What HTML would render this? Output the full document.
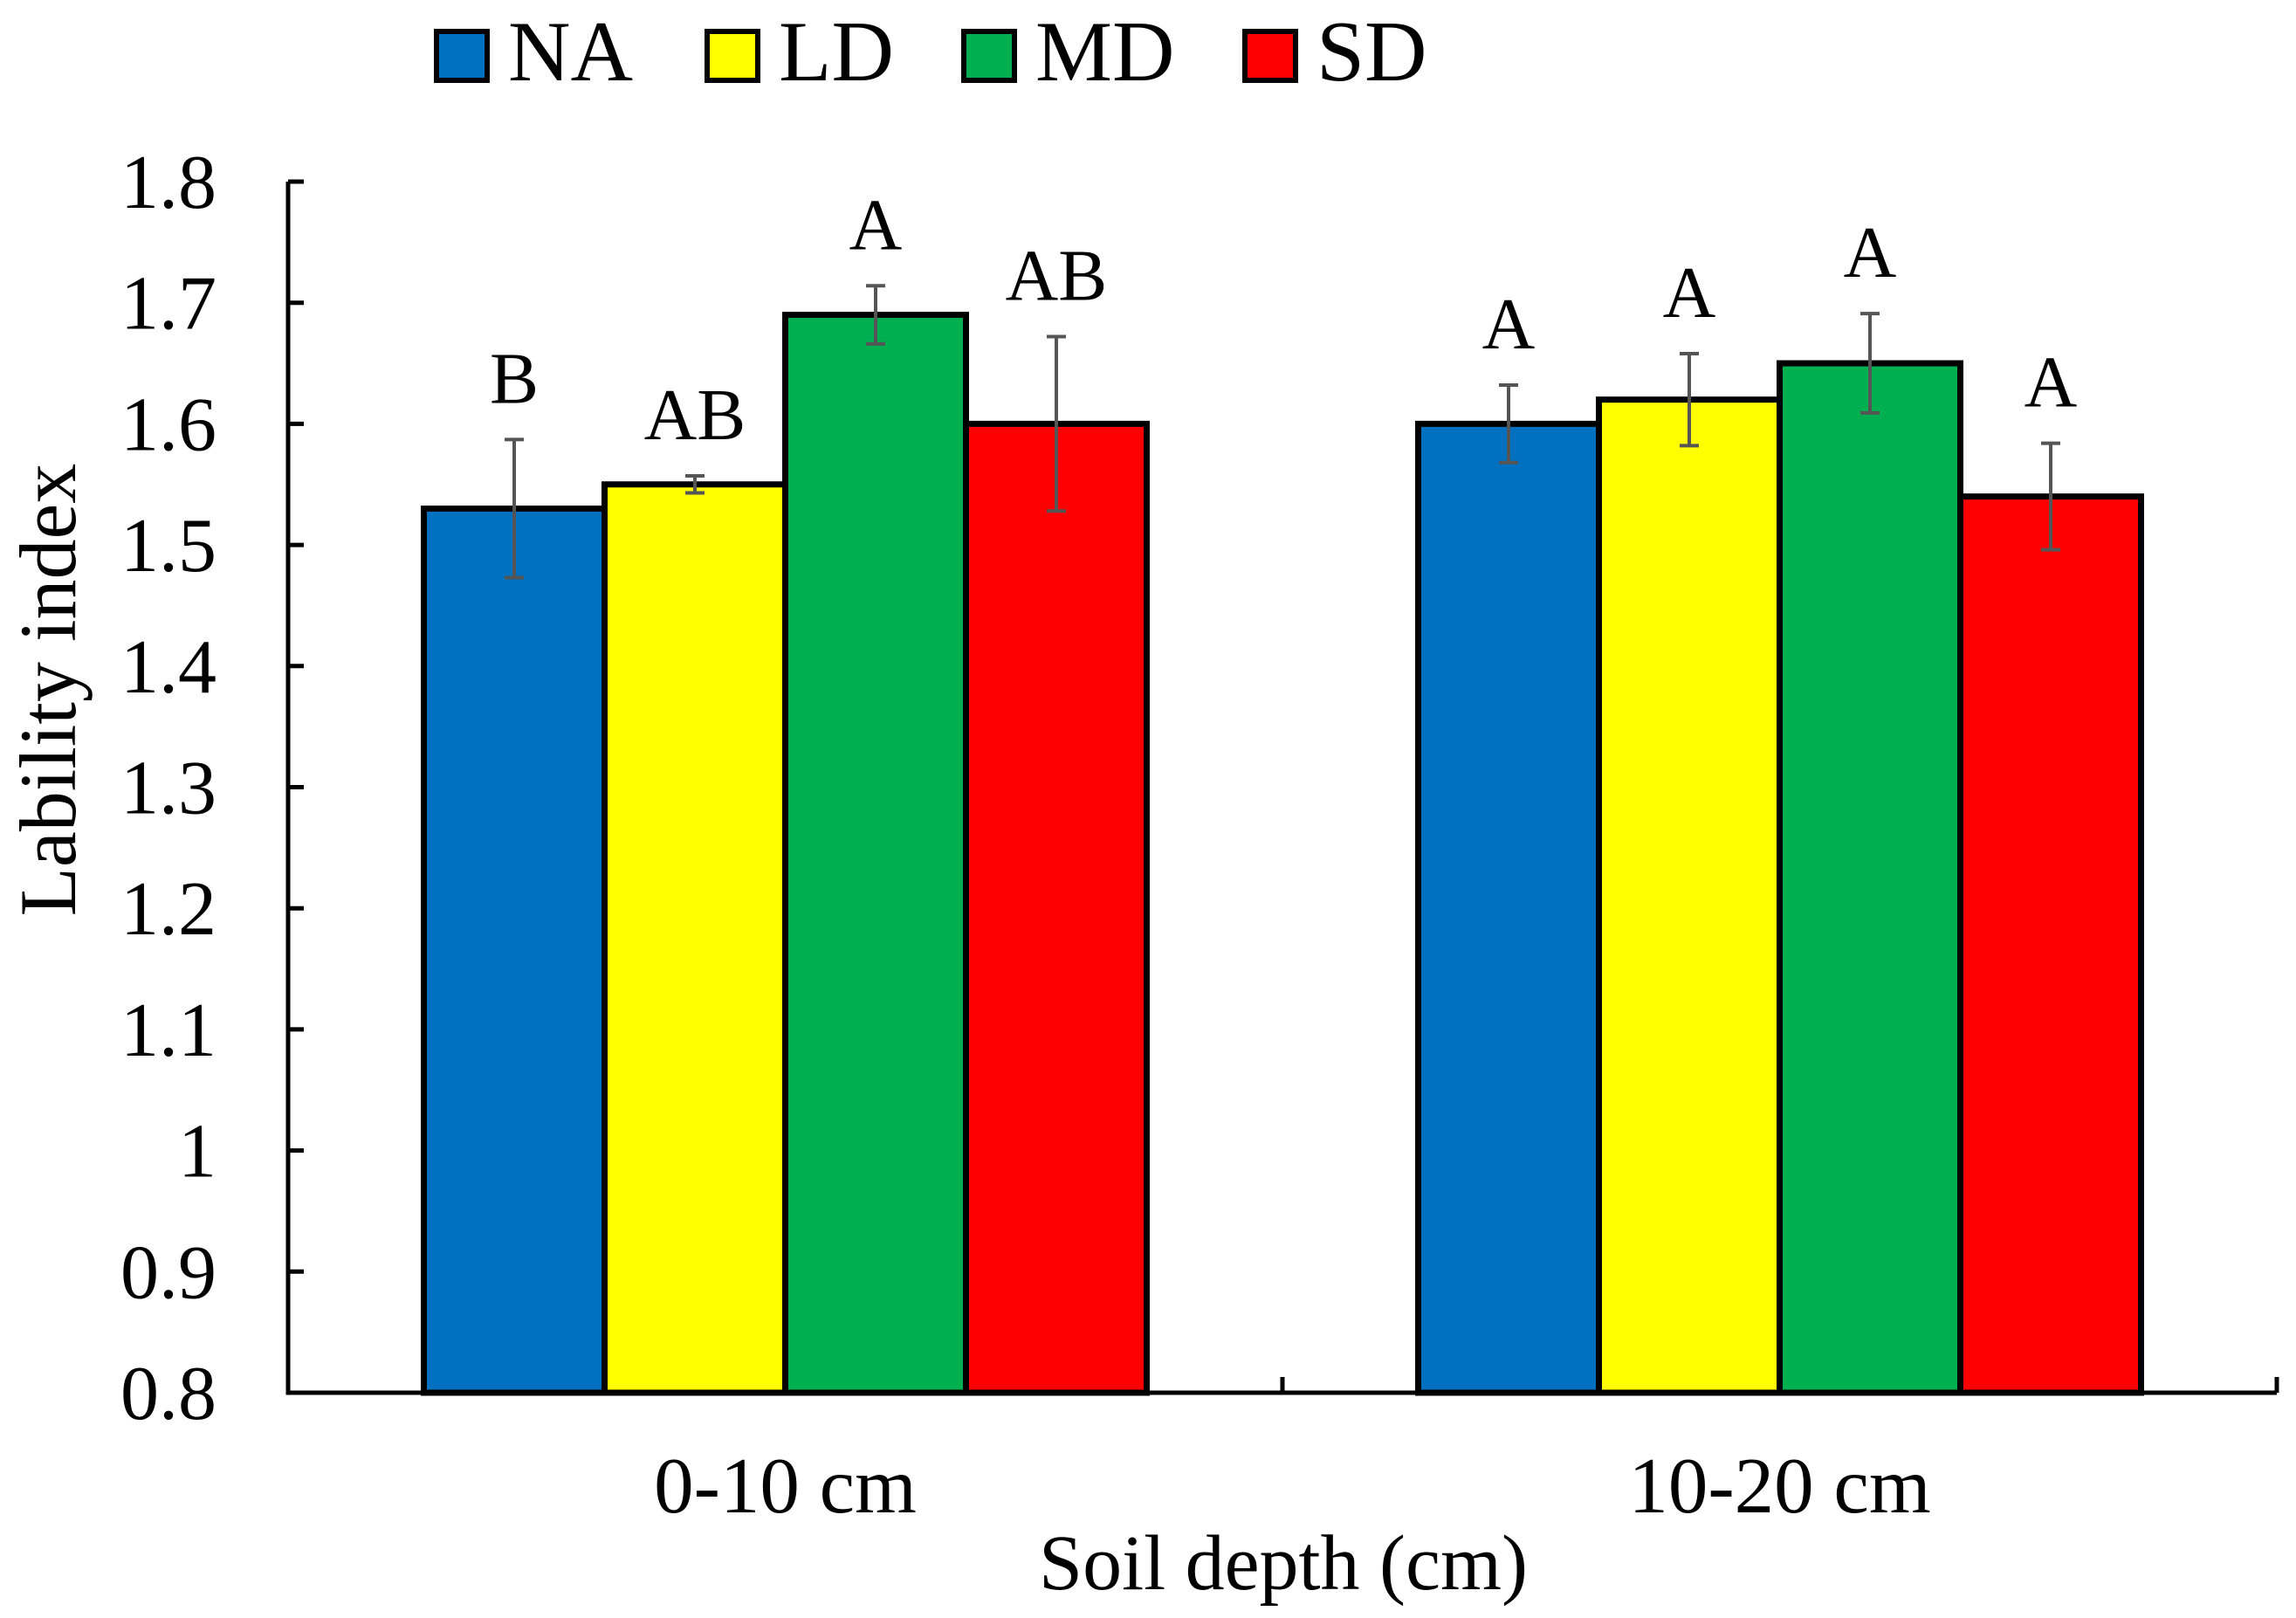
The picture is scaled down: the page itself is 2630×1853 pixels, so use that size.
<!DOCTYPE html>
<html><head><meta charset="utf-8"><style>
html,body{margin:0;padding:0;background:#fff}
svg{display:block;font-family:"Liberation Serif",serif}
</style></head><body>
<svg id="chart" width="2630" height="1853" viewBox="0 0 2630 1853" xmlns="http://www.w3.org/2000/svg">
<g id="legend"></g>
<g id="axes"></g>
<g id="bars"></g>
<text x="55" y="790" font-size="92" text-anchor="middle" transform="rotate(-90 55 790)" dominant-baseline="central">Lability index</text>
<text x="1470" y="1820" font-size="90" text-anchor="middle">Soil depth (cm)</text>
</svg>
<script>
const categories = ["0-10 cm", "10-20 cm"];
const seriesNames = ["NA", "LD", "MD", "SD"];
const seriesColors = ["#0070C0", "#FFFF00", "#00B050", "#FF0000"];
const valuesNA = [1.53, 1.60];
const valuesLD = [1.55, 1.62];
const valuesMD = [1.69, 1.65];
const valuesSD = [1.60, 1.54];
const errNA = [0.057, 0.032];
const errLD = [0.007, 0.038];
const errMD = [0.024, 0.041];
const errSD = [0.072, 0.044];
const lettersNA = ["B", "A"];
const lettersLD = ["AB", "A"];
const lettersMD = ["A", "A"];
const lettersSD = ["AB", "A"];
const yTicks = [0.8, 0.9, 1, 1.1, 1.2, 1.3, 1.4, 1.5, 1.6, 1.7, 1.8];
const yTickLabels = ["0.8","0.9","1","1.1","1.2","1.3","1.4","1.5","1.6","1.7","1.8"];

const NS = "http://www.w3.org/2000/svg";
const X0 = 330, X1 = 2608, Y0 = 1595, Y1 = 208, ymin = 0.8, ymax = 1.8;
const catW = 1139;
const barW = 207;
function yScale(v){ return Y0 - (v - ymin) / (ymax - ymin) * (Y0 - Y1); }
function xCenter(i){ return X0 + catW * (i + 0.5); }
function mk(tag, attrs, parent){ const e = document.createElementNS(NS, tag); for (const k in attrs) e.setAttribute(k, attrs[k]); parent.appendChild(e); return e; }

const axes = document.getElementById('axes');
const bars = document.getElementById('bars');
const legend = document.getElementById('legend');
const vals = [valuesNA, valuesLD, valuesMD, valuesSD];
const errs = [errNA, errLD, errMD, errSD];
const lets = [lettersNA, lettersLD, lettersMD, lettersSD];

yTicks.forEach((t, i) => {
  const y = yScale(t);
  const tk = mk('line', {x1: X0, x2: X0 + 18, y1: y, y2: y, stroke: '#000', 'stroke-width': 5}, axes);
  
  
  const lb = mk('text', {x: 248, y: y + 30, 'font-size': 88, 'text-anchor': 'end'}, axes);
  lb.textContent = yTickLabels[i];
  
  
});

categories.forEach((c, ci) => {
  const cx = xCenter(ci);
  seriesNames.forEach((s, si) => {
    const v = vals[si][ci];
    const x = cx - 2 * barW + si * barW;
    const y = yScale(v);
    const r = mk('rect', {x: x, y: y, width: barW, height: Y0 - y, fill: seriesColors[si], stroke: '#000', 'stroke-width': 7}, bars);
    
    
  });
  seriesNames.forEach((s, si) => {
    const v = vals[si][ci], e = errs[si][ci];
    const bx = cx - 2 * barW + (si + 0.5) * barW;
    const yt = yScale(v + e), yb = yScale(v - e);
    const g = mk('g', {stroke: '#555', 'stroke-width': 4}, bars);
    
    
    mk('line', {x1: bx, x2: bx, y1: yt, y2: yb}, g);
    mk('line', {x1: bx - 11, x2: bx + 11, y1: yt, y2: yt}, g);
    mk('line', {x1: bx - 11, x2: bx + 11, y1: yb, y2: yb}, g);
    const t = mk('text', {x: bx, y: yt - 42, 'font-size': 84, 'text-anchor': 'middle'}, bars);
    t.textContent = lets[si][ci];
    
    
  });
  const cl = mk('text', {x: cx, y: 1732, 'font-size': 91, 'text-anchor': 'middle'}, axes);
  cl.textContent = c;
  
  
});

const ax = mk('path', {d: `M${X0},${Y1} L${X0},${Y0} L${X1},${Y0}`, fill: 'none', stroke: '#000', 'stroke-width': 5}, axes);


for (let i = 1; i <= categories.length; i++) {
  const xt = X0 + catW * i;
  const tk = mk('line', {x1: xt, x2: xt, y1: Y0, y2: Y0 - 18, stroke: '#000', 'stroke-width': 5}, axes);
  
  
}

const legX = [500, 810, 1104, 1426];
seriesNames.forEach((s, si) => {
  const g = mk('g', {}, legend);
  
  
  mk('rect', {x: legX[si], y: 36, width: 58, height: 56, fill: seriesColors[si], stroke: '#000', 'stroke-width': 6}, g);
  const t = mk('text', {x: legX[si] + 82, y: 92, 'font-size': 99}, g);
  t.textContent = s;
});
</script>
</body></html>
